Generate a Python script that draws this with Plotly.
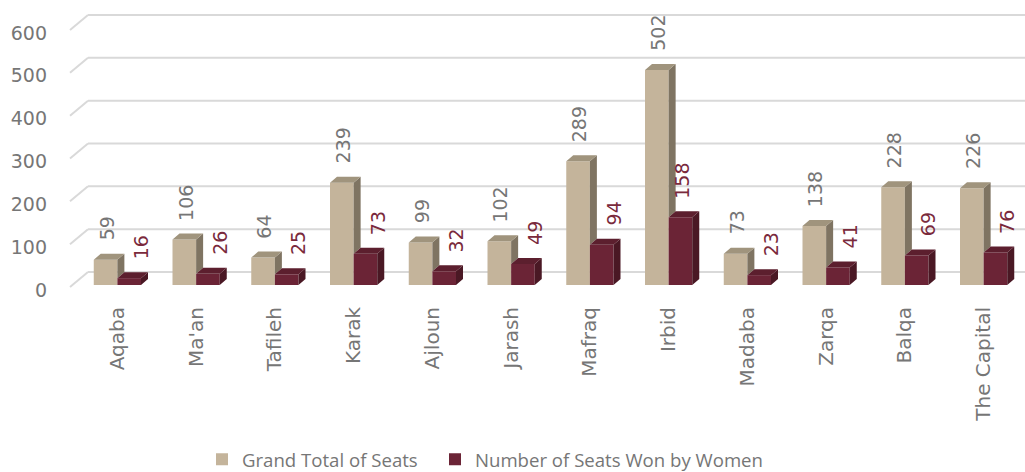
import plotly.graph_objects as go

# ---------------- data ----------------
categories = ["Aqaba", "Ma'an", "Tafileh", "Karak", "Ajloun", "Jarash",
              "Mafraq", "Irbid", "Madaba", "Zarqa", "Balqa", "The Capital"]
grand_total = [59, 106, 64, 239, 99, 102, 289, 502, 73, 138, 228, 226]
women_seats = [16, 26, 25, 73, 32, 49, 94, 158, 23, 41, 69, 76]
y_ticks = [0, 100, 200, 300, 400, 500, 600]
series_names = ["Grand Total of Seats", "Number of Seats Won by Women"]

# ---------------- style / geometry ----------------
W, H = 1025, 472
ML, MR, MT, MB = 78, 2, 28, 187
Y_MAX = 600
BW = 0.3                      # bar width in category units
DEPTH_X_PX, DEPTH_Y_PX = 7, 6  # 3-D depth offset in pixels
BACK_UP_PX = 13               # back-wall grid offset in pixels
BACK_LEFT_PX = 10

plot_w = W - ML - MR
plot_h = H - MT - MB
px_per_cat = plot_w / len(categories)
px_per_val = plot_h / Y_MAX
dx = DEPTH_X_PX / px_per_cat
dy = DEPTH_Y_PX / px_per_val

C_G_FRONT, C_G_SIDE, C_G_TOP = "#C4B49B", "#7F7462", "#A0947D"
C_W_FRONT, C_W_SIDE, C_W_TOP = "#6B2436", "#4A1824", "#5C1F2E"
TXT_GRAY = "#767676"
TXT_RED = "#7A2A3C"
FONT = "DejaVu Sans"
LEGEND_FONT = dict(family="Open Sans", size=18.6, color=TXT_GRAY)

label_nudge_women = {"Irbid": -10}

xs = list(range(len(categories)))

fig = go.Figure()

# front faces
fig.add_trace(go.Bar(x=xs, y=grand_total, width=BW, offset=-BW,
                     marker=dict(color=C_G_FRONT, line=dict(width=0)),
                     name=series_names[0], legend="legend"))
fig.add_trace(go.Bar(x=xs, y=women_seats, width=BW, offset=0,
                     marker=dict(color=C_W_FRONT, line=dict(width=0)),
                     name=series_names[1], legend="legend2"))


def poly_trace(polys, color):
    px, py = [], []
    for pts in polys:
        for (a, b) in pts:
            px.append(a)
            py.append(b)
        px.append(pts[0][0])
        py.append(pts[0][1])
        px.append(None)
        py.append(None)
    return go.Scatter(x=px, y=py, mode="lines", fill="toself",
                      fillcolor=color, line=dict(width=0, color=color),
                      hoverinfo="skip", showlegend=False)


g_side, g_top, w_side, w_top = [], [], [], []
for i, (vb, vw) in enumerate(zip(grand_total, women_seats)):
    lo = min(vw, vb)
    g_side.append([(i, lo), (i, vb), (i + dx, vb + dy), (i + dx, lo + dy)])
    g_top.append([(i - BW, vb), (i, vb), (i + dx, vb + dy), (i - BW + dx, vb + dy)])
    w_side.append([(i + BW, 0), (i + BW, vw), (i + BW + dx, vw + dy), (i + BW + dx, dy)])
    w_top.append([(i, vw), (i + BW, vw), (i + BW + dx, vw + dy), (i + dx, vw + dy)])

fig.add_trace(poly_trace(g_side, C_G_SIDE))
fig.add_trace(poly_trace(g_top, C_G_TOP))
fig.add_trace(poly_trace(w_side, C_W_SIDE))
fig.add_trace(poly_trace(w_top, C_W_TOP))

# data labels
annotations = []
for i, (cat, vb, vw) in enumerate(zip(categories, grand_total, women_seats)):
    annotations.append(dict(x=i - BW / 2, y=vb, xref="x", yref="y", text=str(vb),
                            showarrow=False, textangle=-90, xanchor="center",
                            yanchor="bottom", yshift=17, xshift=1,
                            font=dict(family=FONT, size=19, color=TXT_GRAY)))
    annotations.append(dict(x=i + BW / 2, y=vw, xref="x", yref="y", text=str(vw),
                            showarrow=False, textangle=-90, xanchor="center",
                            yanchor="bottom", yshift=17,
                            xshift=12 + label_nudge_women.get(cat, 0),
                            font=dict(family=FONT, size=19, color=TXT_RED)))

# back-wall gridlines with a slanted floor edge (paper-referenced => not clipped)
shapes = []
for v in y_ticks:
    yp = v / Y_MAX
    common = dict(type="line", layer="below", xref="paper", yref="paper",
                  xsizemode="pixel", xanchor=0, ysizemode="pixel", yanchor=yp,
                  line=dict(color="#D9D9D9", width=2))
    shapes.append(dict(common, x0=-8, y0=-2, x1=BACK_LEFT_PX, y1=BACK_UP_PX))
    shapes.append(dict(common, x0=BACK_LEFT_PX, y0=BACK_UP_PX,
                       x1=plot_w + MR, y1=BACK_UP_PX))

legend_common = dict(orientation="h", xref="container", xanchor="left",
                     y=-0.68, yanchor="middle", font=LEGEND_FONT,
                     bgcolor="rgba(0,0,0,0)",
                     itemclick=False, itemdoubleclick=False)

fig.update_layout(
    width=W, height=H,
    margin=dict(l=ML, r=MR, t=MT, b=MB, autoexpand=False),
    paper_bgcolor="white", plot_bgcolor="white",
    barmode="overlay",
    showlegend=True,
    legend=dict(legend_common, x=202 / W),
    legend2=dict(legend_common, x=435 / W),
    annotations=annotations,
    shapes=shapes,
    xaxis=dict(range=[-0.5, len(categories) - 0.5], tickmode="array",
               tickvals=xs, ticktext=categories, tickangle=-90,
               showgrid=False, zeroline=False, showline=False, ticks="",
               ticklabelstandoff=17, automargin=False,
               tickfont=dict(family=FONT, size=20, color=TXT_GRAY)),
    yaxis=dict(range=[0, Y_MAX], tickmode="array", tickvals=y_ticks,
               showgrid=False, zeroline=False, showline=False, ticks="",
               ticklabelstandoff=30, ticklabelshift=5, automargin=False,
               tickfont=dict(family=FONT, size=19, color=TXT_GRAY)),
)

fig.write_html("out.html",
               config={"displayModeBar": False},
               post_script="document.body.style.margin='0';document.body.style.overflow='hidden';")
